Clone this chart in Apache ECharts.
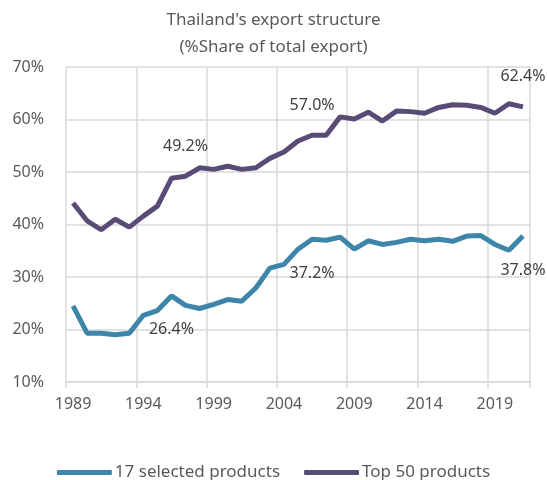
<!DOCTYPE html>
<html>
<head>
<meta charset="utf-8">
<script src="https://cdn.jsdelivr.net/npm/echarts@6/dist/echarts.min.js"></script>
<style>html,body{margin:0;padding:0;background:#fff}#c{width:547px;height:480px}</style>
</head>
<body>
<div id="c"></div>
<script>
var years = [];
for (var y = 1989; y <= 2021; y++) years.push(String(y));
var selected17 = [24.5,19.3,19.3,19.0,19.3,22.7,23.6,26.4,24.6,24.0,24.8,25.7,25.4,27.9,31.7,32.4,35.3,37.2,37.0,37.6,35.3,36.9,36.2,36.6,37.2,36.9,37.2,36.8,37.8,37.9,36.2,35.1,37.8];
var top50 = [44.1,40.7,39.0,41.0,39.5,41.6,43.5,48.8,49.2,50.8,50.5,51.1,50.5,50.8,52.6,53.8,55.9,57.0,57.0,60.5,60.1,61.4,59.7,61.6,61.5,61.2,62.3,62.8,62.7,62.3,61.2,63.0,62.4];
var labelYears17 = ['1996','2006','2021'];
var labelYears50 = ['1997','2006','2021'];
var seriesNames = ['17 selected products','Top 50 products'];
var FONT = 'Noto Sans';
var TXT = '#595959';
function withLabels(vals, lblYears, pos, dist) {
  return vals.map(function (v, i) {
    if (lblYears.indexOf(years[i]) >= 0) {
      return {value: v, label: {show: true, position: pos, distance: dist,
        formatter: function (p) { return p.value.toFixed(1) + '%'; },
        color: '#404040', fontSize: 16, fontFamily: FONT}};
    }
    return v;
  });
}
var chart = echarts.init(document.getElementById('c'), null, {renderer: 'canvas'});
chart.setOption({
  animation: false,
  title: {
    text: "Thailand's export structure\n(%Share of total export)",
    left: 'center', top: 2,
    textStyle: {fontFamily: FONT, fontSize: 17, fontWeight: 'normal', color: TXT, lineHeight: 27}
  },
  legend: {
    top: 459, left: 'center', itemWidth: 55, itemHeight: 5, itemGap: 24,
    icon: 'roundRect',
    textStyle: {fontFamily: FONT, fontSize: 17, color: TXT, padding: [0,0,0,-2]},
    data: seriesNames
  },
  grid: {left: 66, right: 17, top: 67, bottom: 98},
  xAxis: {
    type: 'category', data: years, boundaryGap: true,
    axisLine: {show: true, lineStyle: {color: '#d9d9d9', width: 1.5}},
    axisTick: {show: true, interval: 4, length: 6, lineStyle: {color: '#d9d9d9', width: 1.5}},
    splitLine: {show: true, interval: 4, lineStyle: {color: '#d9d9d9', width: 1.5}},
    axisLabel: {interval: 4, margin: 14, color: TXT, fontFamily: FONT, fontSize: 16}
  },
  yAxis: {
    type: 'value', min: 10, max: 70, interval: 10,
    axisLine: {show: false}, axisTick: {show: false},
    splitLine: {lineStyle: {color: '#d9d9d9', width: 1.5}},
    axisLabel: {formatter: '{value}%', margin: 22, color: TXT, fontFamily: FONT, fontSize: 16}
  },
  series: [
    {name: seriesNames[0], type: 'line', data: withLabels(selected17, labelYears17, 'bottom', 26),
     symbol: 'circle', symbolSize: 0, showSymbol: true,
     lineStyle: {width: 5, color: '#3d85a9'}, itemStyle: {color: '#3d85a9'}},
    {name: seriesNames[1], type: 'line', data: withLabels(top50, labelYears50, 'top', 22),
     symbol: 'circle', symbolSize: 0, showSymbol: true,
     lineStyle: {width: 5, color: '#584c76'}, itemStyle: {color: '#584c76'}}
  ]
});
</script>
</body>
</html>
